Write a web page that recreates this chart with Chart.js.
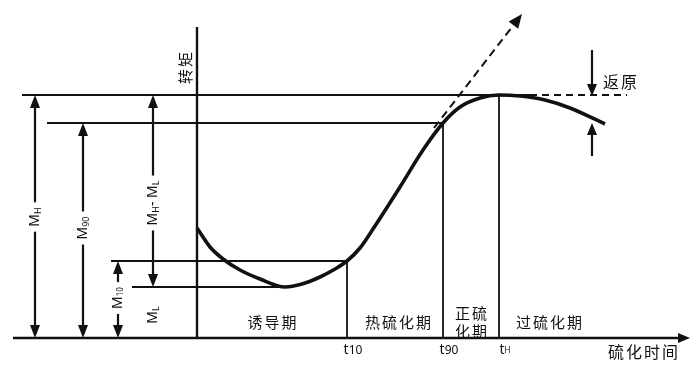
<!DOCTYPE html>
<html>
<head>
<meta charset="utf-8">
<script src="https://cdn.jsdelivr.net/npm/chart.js@4"></script>
<style>body{margin:0;background:#fff}</style>
</head>
<body>
<canvas id="c" width="700" height="368"></canvas>
<script>
// 硫化曲线: 时间 / 转矩 (任意单位)
const curveTime   = [0, 13, 26, 43, 63, 88, 105, 123, 138, 150, 163, 176, 203, 226, 246, 263, 283, 302, 323, 348, 373, 408];
const curveTorque = [110, 91, 79, 68, 59, 51, 54, 61, 69, 77, 90, 109, 151, 188, 215, 231, 240, 243, 242, 238, 230, 214];

// 特征转矩
const torqueNames  = ['MH', 'M90', 'M10', 'ML'];
const torqueValues = [243, 215, 77, 51];
// 特征时间
const timeNames  = ['t10', 't90', 'tH'];
const timeValues = [150, 246, 302];
// 阶段
const stageNames   = ['诱导期', '热硫化期', '正硫\n化期', '过硫化期'];
const stageCenters = [75, 201, 274, 352];

const [MH, M90, M10, ML] = torqueValues;
const [t10, t90, tH] = timeValues;
const tMin = curveTime[curveTorque.indexOf(ML)];

const CJK = '"Noto Sans CJK SC", sans-serif';
const LAT = '"Noto Sans", "DejaVu Sans", sans-serif';

function seg(x1, y1, x2, y2, w, dash) {
    return {
        data: [{x: x1, y: y1}, {x: x2, y: y2}],
        borderColor: '#111', borderWidth: w || 1.8, pointRadius: 0,
        borderDash: dash || [], tension: 0, clip: false
    };
}

const datasets = [
    {
        data: curveTime.map((t, i) => ({x: t, y: curveTorque[i]})),
        borderColor: '#111', borderWidth: 3.6, pointRadius: 0,
        cubicInterpolationMode: 'monotone', clip: false
    },
    seg(-184, 0, 487, 0, 2.6),          // 时间轴
    seg(0, 0, 0, 311, 2.4),             // 转矩轴
    seg(-175, MH, 333, MH),
    seg(333, MH, 430, MH, 2, [7, 5]),
    seg(-150, M90, t90, M90),
    seg(-86, M10, t10, M10),
    seg(-65, ML, tMin, ML),
    seg(t10, 0, t10, M10),
    seg(t90, 0, t90, M90),
    seg(tH, 0, tH, MH),
    seg(237, 210, 322, 320, 2, [8, 5])  // 切线
];

function head(ctx, x, y, ang, len, half) {
    ctx.save();
    ctx.translate(x, y);
    ctx.rotate(ang);
    ctx.beginPath();
    ctx.moveTo(0, 0);
    ctx.lineTo(-len, -half);
    ctx.lineTo(-len, half);
    ctx.closePath();
    ctx.fill();
    ctx.restore();
}

// parts: [text, size, dy]
function rich(ctx, x, y, parts, rot, bg) {
    ctx.save();
    ctx.translate(x, y);
    if (rot) ctx.rotate(-Math.PI / 2);
    ctx.textBaseline = 'middle';
    ctx.textAlign = 'left';
    let w = 0;
    parts.forEach(p => { ctx.font = p[1] + 'px ' + LAT; w += ctx.measureText(p[0]).width; });
    if (bg) {
        ctx.fillStyle = '#fff';
        ctx.fillRect(-w / 2 - bg, -8, w + 2 * bg, 16);
    }
    ctx.fillStyle = '#111';
    let cx = -w / 2;
    parts.forEach(p => {
        ctx.font = p[1] + 'px ' + LAT;
        ctx.fillText(p[0], cx, p[2] || 0);
        cx += ctx.measureText(p[0]).width;
    });
    ctx.restore();
}

function cjk(ctx, text, x, y, size, rot) {
    ctx.save();
    ctx.translate(x, y);
    if (rot) ctx.rotate(-Math.PI / 2);
    ctx.font = size + 'px ' + CJK;
    ctx.letterSpacing = '2px';
    ctx.textAlign = 'center';
    ctx.textBaseline = 'middle';
    ctx.fillStyle = '#111';
    text.split('\n').forEach((line, i, arr) => {
        ctx.fillText(line, 1, (i - (arr.length - 1) / 2) * 18);
    });
    ctx.restore();
}

const notes = {
    id: 'notes',
    afterDatasetsDraw(chart) {
        const ctx = chart.ctx;
        const X = v => chart.scales.x.getPixelForValue(v);
        const Y = v => chart.scales.y.getPixelForValue(v);
        ctx.save();
        ctx.fillStyle = '#111';
        ctx.strokeStyle = '#111';

        // 轴箭头
        head(ctx, X(493), Y(0), 0, 12, 5);
        head(ctx, X(325), Y(324), Math.atan2(Y(324) - Y(210), X(325) - X(237)), 14, 6);

        // 尺寸箭头
        const dims = [
            {t: -162, a: 0, b: MH, c: 121, parts: [['M', 14], ['H', 9, 3]]},
            {t: -114, a: 0, b: M90, c: 110, parts: [['M', 14], ['90', 9, 3]]},
            {t: -44, a: ML, b: MH, c: 135, parts: [['M', 14], ['H', 9, 3], ['- M', 14], ['L', 9, 3]]},
            {t: -79, a: 0, b: M10, c: 40, parts: [['M', 14], ['10', 8, 3]]}
        ];
        dims.forEach(d => {
            ctx.lineWidth = 2.2;
            ctx.beginPath();
            ctx.moveTo(X(d.t), Y(d.a) - 10);
            ctx.lineTo(X(d.t), Y(d.b) + 10);
            ctx.stroke();
            head(ctx, X(d.t), Y(d.b), -Math.PI / 2, 13, 5);
            head(ctx, X(d.t), Y(d.a), Math.PI / 2, 13, 5);
            rich(ctx, X(d.t), Y(d.c), d.parts, true, 5);
        });
        rich(ctx, X(-44), Y(23), [['M', 14], ['L', 9, 3]], true, 0);

        // 返原
        ctx.lineWidth = 2.2;
        ctx.beginPath();
        ctx.moveTo(X(395), Y(288)); ctx.lineTo(X(395), Y(MH) - 8);
        ctx.moveTo(X(395), Y(182)); ctx.lineTo(X(395), Y(215) + 8);
        ctx.stroke();
        head(ctx, X(395), Y(MH) + 1, Math.PI / 2, 12, 5);
        head(ctx, X(395), Y(215), -Math.PI / 2, 12, 5);
        cjk(ctx, '返原', X(423), Y(256), 16);

        // 时间标注
        timeValues.forEach((t, i) => {
            const sub = timeNames[i].slice(1);
            rich(ctx, X(t) + 6, 350, [['t', 14], [sub, sub === 'H' ? 8 : 12, 1]], false, 0);
        });

        stageNames.forEach((s, i) => cjk(ctx, s, X(stageCenters[i]), Y(16), 15));
        cjk(ctx, '转矩', X(-12), Y(270), 15, true);
        cjk(ctx, '硫化时间', X(446), 352, 16);
        ctx.restore();
    }
};

new Chart(document.getElementById('c'), {
    type: 'line',
    data: {datasets},
    options: {
        responsive: false,
        animation: false,
        layout: {padding: 0},
        plugins: {legend: {display: false}, tooltip: {enabled: false}},
        scales: {
            x: {type: 'linear', min: -197, max: 503, display: false},
            y: {type: 'linear', min: -30, max: 338, display: false}
        }
    },
    plugins: [notes]
});
</script>
</body>
</html>
